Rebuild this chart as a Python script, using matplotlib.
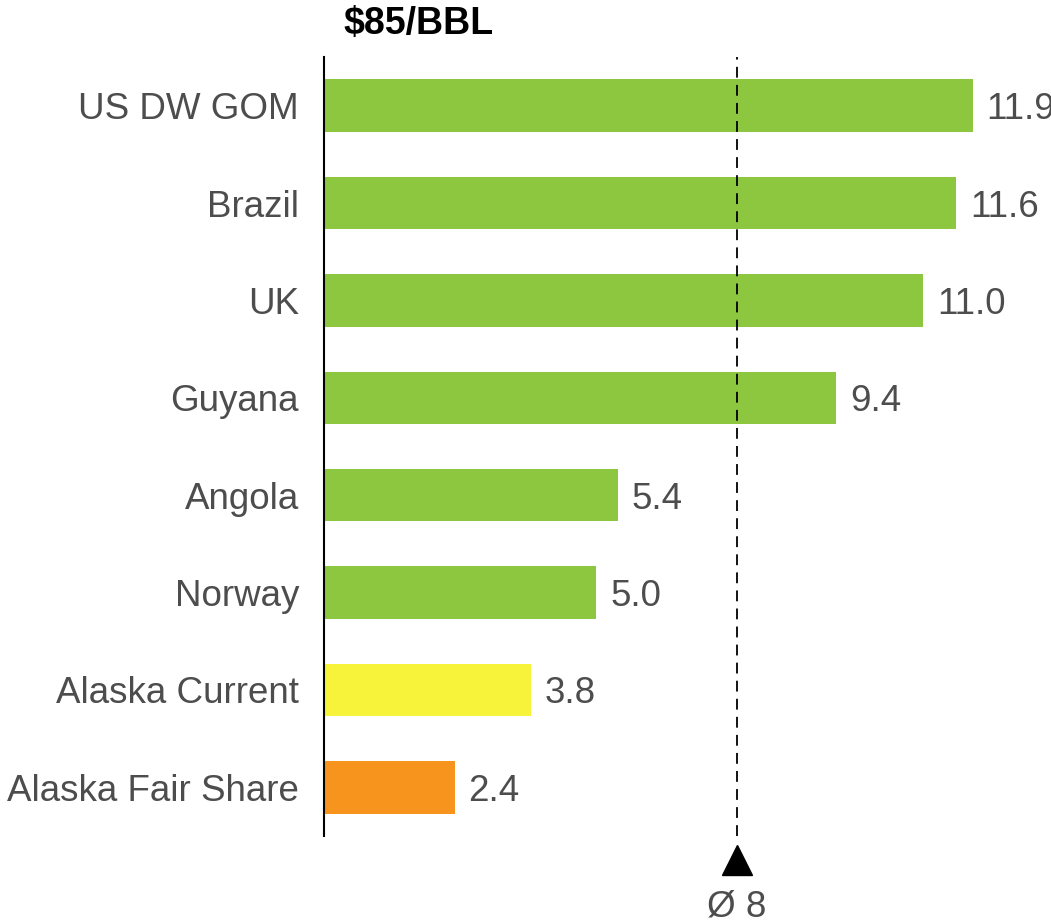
import numpy as np
import matplotlib.pyplot as plt

plt.rcParams['font.family'] = ['Liberation Sans', 'DejaVu Sans']

countries = ["US DW GOM", "Brazil", "UK", "Guyana", "Angola", "Norway",
             "Alaska Current", "Alaska Fair Share"]
values = [11.9, 11.6, 11.0, 9.4, 5.4, 5.0, 3.8, 2.4]
colors = ["#8DC63F"] * 6 + ["#F7F23A", "#F7941D"]
avg_pos = 7.58
avg_label = "Ø 8"
title = "$85/BBL"

fig = plt.figure(figsize=(10.51, 9.23), dpi=100)
ax = fig.add_axes([324 / 1051, 1 - 836 / 923, 1 - 324 / 1051, (836 - 57) / 923])

y = np.arange(len(countries))
ax.barh(y, values, height=0.54, color=colors)
ax.set_ylim(len(countries) - 0.5, -0.5)
ax.set_xlim(0, 13.34)

for yi, v in zip(y, values):
    ax.text(v + 0.25, yi, f"{v:.1f}", va="center_baseline", ha="left",
            fontsize=26.5, color="#4D4D4D", clip_on=False)

ax.set_yticks(y)
ax.set_yticklabels(countries, fontsize=26.5, color="#4D4D4D",
                   va="center_baseline")
ax.tick_params(axis="y", length=0, pad=18)
ax.set_xticks([])
for s in ["top", "right", "bottom"]:
    ax.spines[s].set_visible(False)
ax.spines["left"].set_linewidth(1.5)

ax.axvline(avg_pos, color="black", linestyle=(0, (6, 4)), linewidth=1.3)
ax.plot([avg_pos], [7.75], marker="^", markersize=21, color="black", clip_on=False)
ax.text(avg_pos, 8.23, avg_label, ha="center", va="center", fontsize=26.5,
        color="#4D4D4D", clip_on=False)

fig.text(343 / 1051, 1 - 24 / 923, title, fontsize=27, fontweight="bold",
         ha="left", va="center")

fig.savefig("out.png", dpi=100)
